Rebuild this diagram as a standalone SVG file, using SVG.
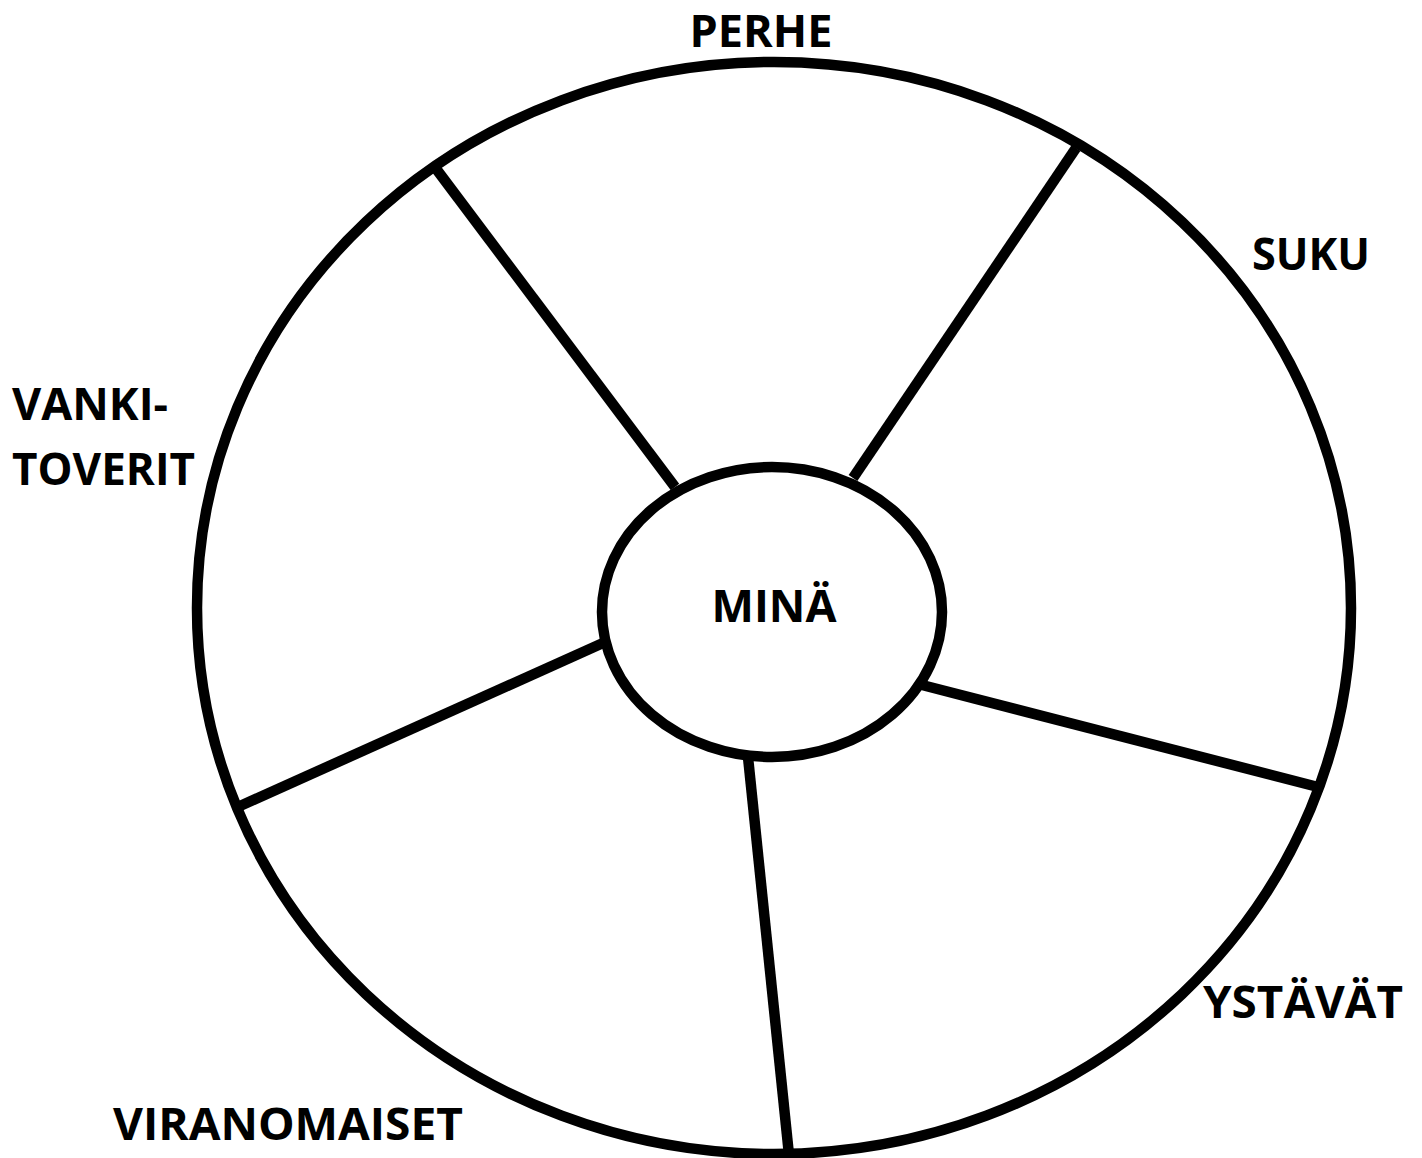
<svg xmlns="http://www.w3.org/2000/svg" width="1422" height="1158" viewBox="0 0 1422 1158">
<style>
.s{fill:none;stroke:#000;stroke-width:10.5}
.t{font-family:"Open Sans","Liberation Sans",sans-serif;font-weight:bold;font-size:45px;fill:#000}
</style>
<rect width="1422" height="1158" fill="#fff"/>
<g id="outer"><ellipse class="s" cx="774" cy="608" rx="577" ry="546"/></g>
<g id="connectors">
<line class="s" x1="437" y1="170" x2="675" y2="487"/>
<line class="s" x1="1076" y1="148" x2="853" y2="478"/>
<line class="s" x1="1318" y1="787" x2="922" y2="685"/>
<line class="s" x1="789" y1="1155" x2="748" y2="757"/>
<line class="s" x1="240" y1="806" x2="603" y2="643"/>
</g>
<g id="mina"><ellipse class="s" cx="772" cy="612" rx="170" ry="145"/><text class="t" x="774" y="622" text-anchor="middle" textLength="125" lengthAdjust="spacingAndGlyphs">MINÄ</text></g>
<g id="perhe"><text class="t" x="761" y="47" text-anchor="middle" textLength="143" lengthAdjust="spacingAndGlyphs">PERHE</text></g>
<g id="suku"><text class="t" x="1311" y="270" text-anchor="middle" textLength="118" lengthAdjust="spacingAndGlyphs">SUKU</text></g>
<g id="ystavat"><text class="t" x="1303" y="1018" text-anchor="middle" textLength="200" lengthAdjust="spacingAndGlyphs">YSTÄVÄT</text></g>
<g id="viranomaiset"><text class="t" x="288" y="1140" text-anchor="middle" textLength="350" lengthAdjust="spacingAndGlyphs">VIRANOMAISET</text></g>
<g id="vankitoverit"><text class="t" x="12" y="420" textLength="156" lengthAdjust="spacingAndGlyphs">VANKI-</text><text class="t" x="12" y="485" textLength="183" lengthAdjust="spacingAndGlyphs">TOVERIT</text></g>
</svg>
